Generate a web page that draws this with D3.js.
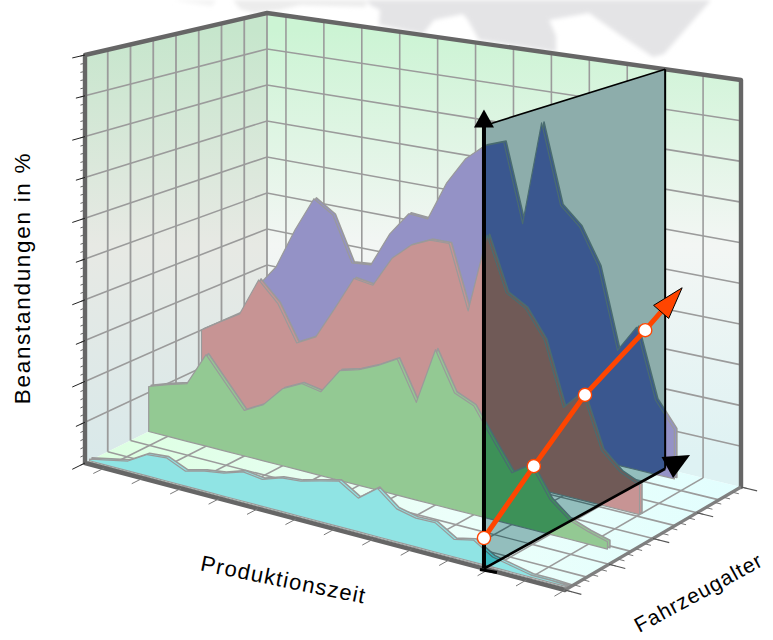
<!DOCTYPE html>
<html>
<head>
<meta charset="utf-8">
<script src="https://cdn.jsdelivr.net/npm/d3@7/dist/d3.min.js"></script>
<style>
html,body{margin:0;padding:0;background:#fff}
svg{display:block}
text{font-family:"Liberation Sans",Arial,sans-serif;fill:#000}
</style>
</head>
<body>
<svg id="chart" width="773" height="640"></svg>
<script>
// Complaint rates per production month, one array per vehicle-age cross section
const ageCyan  = 0.2, ageGreen = 2.8, ageRed = 5.12, ageBlue = 7.56;
const valuesCyan  = [0.4,1.4,2.4,5.2,5.6,3.6,4.8,5.5,7.0,6.4,7.9,8.3,9.5,10.6,7.8,11.2,7.6,6.6,6.7,4.0,5.0,2.3,1.4,0.5,0.5,0.3];
const valuesGreen = [11.5,13.2,14.6,23.1,17.2,11.4,14.0,19.1,21.5,20.6,26.9,28.2,30.3,32.9,23.5,37.2,27.9,25.9,18.9,12.2,15.2,8.1,4.5,2.9,1.7];
const valuesRed   = [20.0,23.3,26.5,36.5,31.5,22.3,25.0,33.4,42.1,41.4,49.2,53.5,55.7,55.8,40.0,59.7,46.4,43.6,36.8,21.4,26.2,13.2,9.0,7.0];
const valuesBlue  = [25.1,31.7,42.9,52.4,49.0,37.1,37.6,46.9,53.2,52.8,63.2,70.4,74.6,76.4,56.2,82.9,62.7,58.1,48.9,28.8,35.6,18.5,12.2];

// Trend across vehicle age at the highlighted production month
const trendAges   = [0, 2.2, 4.46, 7.12];
const trendValues = [6.9, 17.4, 28.2, 37.0];
const trendTipAge = 8.75, trendTipValue = 43.4;

// Axis layout
const valueTicks = d3.range(0, 101, 10);
const valueMinor = d3.range(0, 100.1, 2);
const monthTicks = d3.range(1, 26, 2);
const ageTicks   = d3.range(0, 9, 1);
const ageMajor   = d3.range(0, 9, 2);
const ageMinor   = d3.range(0, 8.01, 0.4);
const planeMonthFront = 20.78, planeMonthBack = 21;

const xLabel = "Produktionszeit", yLabel = "Fahrzeugalter", zLabel = "Beanstandungen in %";

// Faint grey backdrop behind the plot box
const backdropMain = [[366,0],[370,5],[380,10],[379,25],[423,34],[434,20],[463,14],[468,20],[479,40],[556,52],[556,36],[549,20],[589,13],[620,35],[653,57],[664,54],[711,0]];
const backdropLeft = [[233,0],[240,9],[254,13],[280,10],[300,5],[366,7],[366,0]];
const backdropPale = [[172,0],[212,6],[216,0]];

const svg = d3.select("#chart");
const defs = svg.append("defs");

// Scales from data units to the unit cube of the box
const uScale = d3.scaleLinear().domain([0, 25]).range([0, 1]);
const vScale = d3.scaleLinear().domain([0, 8]).range([0, 1]);
const zScale = d3.scaleLinear().domain([0, 100]).range([0, 1]);

// Box corners on screen, and wall heights at those corners
const corner = {f0:[85,463], f1:[565,590], b1:[741,487], b0:[267,373]};
const height = {f0:408, f1:450, b1:407, b0:360};

function project(month, age, value) {
  const u = uScale(month), v = vScale(age), z = zScale(value);
  const w00 = (1-u)*(1-v), w10 = u*(1-v), w11 = u*v, w01 = (1-u)*v;
  const x = w00*corner.f0[0] + w10*corner.f1[0] + w11*corner.b1[0] + w01*corner.b0[0];
  const y = w00*corner.f0[1] + w10*corner.f1[1] + w11*corner.b1[1] + w01*corner.b0[1];
  const h = w00*height.f0 + w10*height.f1 + w11*height.b1 + w01*height.b0;
  return [x, y - z*h];
}

const lineGen = d3.line();
const poly = pts => lineGen(pts) + "Z";

function gradient(id, stops) {
  const g = defs.append("linearGradient").attr("id", id)
    .attr("gradientUnits", "userSpaceOnUse")
    .attr("x1", 0).attr("y1", 30).attr("x2", 0).attr("y2", 460);
  stops.forEach(s => g.append("stop").attr("offset", s[0]).attr("stop-color", s[1]));
}
gradient("backWall", [[0,"#ccf4d4"],[0.5,"#f3f6f4"],[1,"#def2f3"]]);
gradient("leftWall", [[0,"#c6e6cc"],[0.5,"#e7e9e4"],[1,"#d9e9ea"]]);
const floorGrad = defs.append("linearGradient").attr("id", "floorFill")
  .attr("gradientUnits", "userSpaceOnUse").attr("x1", 90).attr("y1", 0).attr("x2", 740).attr("y2", 0);
floorGrad.append("stop").attr("offset", 0).attr("stop-color", "#dcffe0");
floorGrad.append("stop").attr("offset", 0.55).attr("stop-color", "#ecfffa");
floorGrad.append("stop").attr("offset", 1).attr("stop-color", "#e2fefe");

defs.append("filter").attr("id", "soft").append("feGaussianBlur").attr("stdDeviation", 2.2);

// Backdrop
const backdrop = svg.append("g").attr("filter", "url(#soft)");
backdrop.append("path").attr("d", poly(backdropMain)).attr("fill", "#e4e4e6");
backdrop.append("path").attr("d", poly(backdropLeft)).attr("fill", "#ececec");
backdrop.append("path").attr("d", poly(backdropPale)).attr("fill", "#f3f3f3");

// Walls and floor
svg.append("path").attr("fill", "url(#backWall)")
  .attr("d", poly([project(0,8,0), project(0,8,100), project(25,8,100), project(25,8,0)]));
svg.append("path").attr("fill", "url(#leftWall)")
  .attr("d", poly([project(0,0,0), project(0,0,100), project(0,8,100), project(0,8,0)]));
const floorCorners = [project(0,0,0), project(25,0,0), project(25,8,0), project(0,8,0)];
svg.append("path").attr("fill", "url(#floorFill)").attr("d", poly(floorCorners));

function segments(parent, list, stroke, width) {
  parent.append("g").attr("stroke", stroke).attr("stroke-width", width).attr("fill", "none")
    .selectAll("path").data(list).join("path").attr("d", d => lineGen(d));
}

const gridStroke = "#9b9b9b";
// Value gridlines on the two walls
segments(svg, valueTicks.slice(1, -1).map(t => [project(0,0,t), project(0,8,t), project(25,8,t)]), gridStroke, 1.6);
// Uprights on the back wall and the left wall
segments(svg, monthTicks.slice(0, -1).map(m => [project(m,8,0), project(m,8,100)]), gridStroke, 1.6);
segments(svg, ageTicks.slice(1).map(a => [project(0,a,0), project(0,a,100)]), gridStroke, 1.8);
// Floor grid
const floorLines = (color, width, parent) => {
  segments(parent, monthTicks.slice(0, -1).map(m => [project(m,0,0), project(m,8,0)]), color, width);
  segments(parent, ageTicks.slice(1, -1).map(a => [project(0,a,0), project(25,a,0)]), color, width);
};
floorLines(gridStroke, 1.6, svg);

// One cross section: a thin slab with a rear face and a front face
function slab(parent, values, age, fill, stroke) {
  const area = d3.area()
    .x((d, i) => project(i, age, d)[0])
    .y1((d, i) => project(i, age, d)[1])
    .y0((d, i) => project(i, age, 0)[1]);
  const rearAge = age + 0.11;
  const rear = d3.area()
    .x((d, i) => project(i, rearAge, d)[0])
    .y1((d, i) => project(i, rearAge, d)[1])
    .y0((d, i) => project(i, rearAge, 0)[1]);
  parent.append("path").attr("d", rear(values)).attr("fill", fill)
    .attr("stroke", stroke).attr("stroke-width", 1.6).attr("stroke-linejoin", "round");
  parent.append("path").attr("d", area(values)).attr("fill", fill)
    .attr("stroke", stroke).attr("stroke-width", 1.2).attr("stroke-linejoin", "round");
}
const slabStroke = "#9a9a9a";
slab(svg, valuesBlue, ageBlue, "#9492c6", slabStroke);
slab(svg, valuesRed, ageRed, "#c79494", slabStroke);
slab(svg, valuesGreen, ageGreen, "#93c993", slabStroke);
slab(svg, valuesCyan, ageCyan, "#90e4e4", slabStroke);

// Box outline
const edge = "#666666";
svg.append("path").attr("fill", "none").attr("stroke", "#a5a5a5").attr("stroke-width", 1)
  .attr("d", lineGen([project(0,0.14,0), project(25,0.14,0)]));
svg.append("path").attr("fill", "none").attr("stroke", edge).attr("stroke-width", 4.4)
  .attr("stroke-linejoin", "round").attr("stroke-linecap", "round")
  .attr("d", lineGen([project(25,0,0), project(0,0,0), project(0,0,100), project(0,8,100), project(25,8,100), project(25,8,0)]));
svg.append("path").attr("fill", "none").attr("stroke", "#808080").attr("stroke-width", 3.2)
  .attr("d", lineGen([project(25,8,0), project(25,0,0)]));

// Tick marks
segments(svg, valueMinor.map(t => [project(0,0,t), project(0,-0.2,t)]), "#666", 1);
segments(svg, valueTicks.map((t, i) => [project(0,0,t), project(0, i % 2 ? -0.4 : -0.56, t)]), "#222", 1);
segments(svg, monthTicks.map(m => [project(m,0,0), project(m,-0.48,0)]), "#7a7a7a", 1);
segments(svg, ageMinor.map(a => [project(25,a,0), project(25.35,a,0)]), "#777", 1);
segments(svg, ageMajor.map(a => [project(25,a,0), project(25.85,a,0)]), "#555", 1.2);

// Highlighted production month: an upright plane through the box
const planeMonth = a => planeMonthFront + (planeMonthBack - planeMonthFront) * a / 8;
const planeCorners = [project(planeMonth(0),0,0), project(planeMonth(0),0,100), project(planeMonth(8),8,100), project(planeMonth(8),8,0)];
defs.append("clipPath").attr("id", "planeClip").append("path").attr("d", poly(planeCorners));
const plane = svg.append("g").attr("clip-path", "url(#planeClip)");
plane.append("path").attr("d", poly(planeCorners)).attr("fill", "#8dadab");
plane.append("path").attr("d", poly(floorCorners)).attr("fill", "#93bebd");
floorLines("#4f7072", 1.4, plane);
const planeEdge = "#4a6c70";
slab(plane, valuesBlue, ageBlue, "#3a578f", planeEdge);
slab(plane, valuesRed, ageRed, "#705a57", planeEdge);
slab(plane, valuesGreen, ageGreen, "#3d9158", planeEdge);
slab(plane, valuesCyan, ageCyan, "#3ab8bf", planeEdge);
plane.append("path").attr("fill", "none").attr("stroke", edge).attr("stroke-width", 4.4)
  .attr("d", lineGen([project(25,0,0), project(0,0,0)]));

// Arrowhead pointing from a towards b, with its tip at b
function arrowHead(a, b, length, halfWidth) {
  const dx = b[0]-a[0], dy = b[1]-a[1], n = Math.hypot(dx, dy);
  const ux = dx/n, uy = dy/n;
  const bx = b[0]-ux*length, by = b[1]-uy*length;
  return [b, [bx - uy*halfWidth, by + ux*halfWidth], [bx + uy*halfWidth, by - ux*halfWidth]];
}

const origin = project(planeMonth(0),0,0);
const planeTop = project(planeMonth(0),0,100);
const farFloor = project(planeMonth(8),8,0);
const farTop = project(planeMonth(8),8,100);

// Plane borders and its two black axes
segments(svg, [[planeTop, farTop]], "#000", 1.6);
segments(svg, [[farTop, farFloor]], "#000", 2);
const upTip = [origin[0], origin[1] - 459];
segments(svg, [[origin, upTip.map((c, i) => i ? c + 14 : c)]], "#000", 4);
svg.append("path").attr("d", poly(arrowHead(origin, upTip, 18, 10))).attr("fill", "#000");
const ageTip = project(planeMonth(9.1), 9.1, 0);
segments(svg, [[origin, farFloor]], "#000", 2.6);
svg.append("path").attr("d", poly(arrowHead(origin, ageTip, 26, 12))).attr("fill", "#000");
segments(svg, [[[origin[0]-4, origin[1]+1], [origin[0]+13, origin[1]+4]]], "#000", 3);

// Trend line across age, on the plane
const trendPts = trendAges.map((a, i) => project(planeMonth(a), a, trendValues[i]));
const trendEnd = project(planeMonth(trendTipAge), trendTipAge, trendTipValue);
svg.append("path").attr("fill", "none").attr("stroke", "#ff4500").attr("stroke-width", 5)
  .attr("d", lineGen([...trendPts, [trendEnd[0]-15, trendEnd[1]+17]]));
svg.append("path").attr("d", poly(arrowHead(trendPts[3], trendEnd, 32, 10)))
  .attr("fill", "#ff4500").attr("stroke", "#000").attr("stroke-width", 1).attr("stroke-linejoin", "round");
svg.append("g").selectAll("circle").data(trendPts).join("circle")
  .attr("cx", d => d[0]).attr("cy", d => d[1]).attr("r", 6.6)
  .attr("fill", "#fff").attr("stroke", "#ff4500").attr("stroke-width", 1.4);

// Axis titles
svg.append("text").text(zLabel).attr("font-size", 22.5).attr("letter-spacing", 1.7)
  .attr("text-anchor", "middle").attr("transform", "translate(30,278) rotate(-90)");
svg.append("text").text(xLabel).attr("font-size", 22).attr("letter-spacing", 1.2)
  .attr("text-anchor", "middle").attr("transform", "translate(282,587) rotate(11.5)");
svg.append("text").text(yLabel).attr("font-size", 21).attr("letter-spacing", 1)
  .attr("text-anchor", "middle").attr("transform", "translate(702,599) rotate(-28.5)");
</script>
</body>
</html>
